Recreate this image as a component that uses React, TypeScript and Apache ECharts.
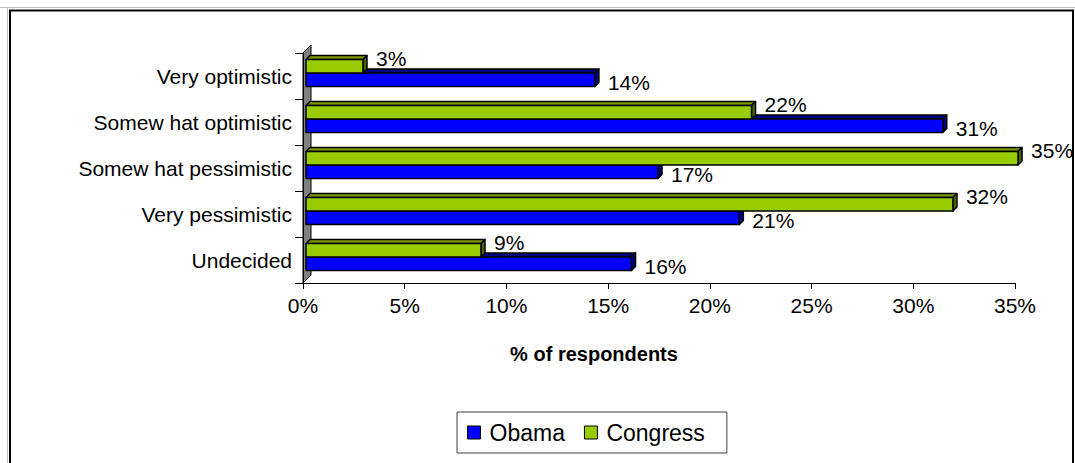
import React, { useEffect, useRef } from "react";
import * as echarts from "echarts";

const categories = [
  "Very optimistic",
  "Somew hat optimistic",
  "Somew hat pessimistic",
  "Very pessimistic",
  "Undecided",
];
const obamaValues = [14.3, 31.4, 17.4, 21.4, 16.1];
const congressValues = [2.9, 22.0, 35.1, 31.9, 8.7];
const seriesNames = ["Obama", "Congress"];
const xTicks = { min: 0, max: 35, interval: 5 };

const FONT = "Liberation Sans, Arial, sans-serif";
const GRID_LEFT = 303;
const GRID_TOP = 53;
const GRID_H = 230;
const DEPTH = 4;

const faceColors: Record<string, { front: string; top: string; side: string }> = {
  Obama: { front: "#0000ff", top: "#000080", side: "#000080" },
  Congress: { front: "#99cc00", top: "#7a9900", side: "#4c6600" },
};

function makeRender(name: string) {
  const isCongress = name === "Congress";
  const c = faceColors[name];
  return (params: any, api: any) => {
    const v = api.value(0);
    const ci = api.value(1);
    const [xv, yc] = api.coord([v, ci]);
    const [x0] = api.coord([0, ci]);
    const band = api.size([0, 1])[1];
    const h = band * 0.293;
    const split = yc - band * 0.065;
    const top = isCongress ? split - h : split;
    const xs = x0 + 3;
    const xe = xv + 1;
    const d = DEPTH;
    const stroke = { stroke: "#000", lineWidth: 1.5, lineJoin: "round" };
    return {
      type: "group",
      children: [
        {
          type: "polygon",
          shape: { points: [[xs, top], [xs + d, top - d], [xe + d, top - d], [xe, top]] },
          style: { fill: c.top, ...stroke },
        },
        {
          type: "polygon",
          shape: { points: [[xe, top], [xe + d, top - d], [xe + d, top + h - d], [xe, top + h]] },
          style: { fill: c.side, ...stroke },
        },
        {
          type: "rect",
          shape: { x: xs, y: top, width: xe - xs, height: h },
          style: { fill: c.front, ...stroke },
        },
        {
          type: "text",
          style: {
            text: Math.round(v) + "%",
            x: xe + d + 9,
            y: isCongress ? yc - 18 : yc + 6,
            verticalAlign: "middle",
            align: "left",
            fill: "#000",
            font: `21px ${FONT}`,
          },
        },
      ],
    };
  };
}

export default function App() {
  const ref = useRef<HTMLDivElement>(null);
  useEffect(() => {
    document.body.style.margin = "0";
    if (!ref.current) return;
    const chart = echarts.init(ref.current, undefined, { renderer: "svg" });
    const wallD = 8;
    const bottom = GRID_TOP + GRID_H;
    chart.setOption({
      animation: false,
      backgroundColor: "#ffffff",
      textStyle: { fontFamily: FONT },
      grid: { left: GRID_LEFT, right: 60, top: GRID_TOP, height: GRID_H, containLabel: false },
      xAxis: {
        type: "value",
        min: xTicks.min,
        max: xTicks.max,
        interval: xTicks.interval,
        axisLine: { show: true, lineStyle: { color: "#000", width: 1 } },
        axisTick: { show: true, length: 6, lineStyle: { color: "#000" } },
        splitLine: { show: false },
        axisLabel: { formatter: "{value}%", fontSize: 21, color: "#000", margin: 12, fontFamily: FONT },
      },
      yAxis: {
        type: "category",
        data: categories,
        inverse: true,
        axisLine: { show: true, lineStyle: { color: "#000", width: 1 } },
        axisTick: { show: true, length: 8, lineStyle: { color: "#000" } },
        axisLabel: { fontSize: 21, color: "#000", margin: 11, fontFamily: FONT },
      },
      legend: {
        data: seriesNames,
        left: 457,
        top: 412,
        orient: "horizontal",
        padding: [9, 22, 9, 10],
        borderColor: "#404040",
        borderWidth: 1,
        itemWidth: 13,
        itemHeight: 13,
        itemGap: 19,
        icon: "rect",
        itemStyle: { borderColor: "#000", borderWidth: 1 },
        textStyle: { fontSize: 23, color: "#000", fontFamily: FONT, padding: [0, 0, 0, 4] },
      },
      graphic: [
        {
          type: "line",
          shape: { x1: 0, y1: 7.5, x2: 1075, y2: 7.5 },
          style: { stroke: "#c0c0c0", lineWidth: 1 },
          z: 0,
        },
        {
          type: "line",
          shape: { x1: 7.5, y1: 7.5, x2: 7.5, y2: 463 },
          style: { stroke: "#c0c0c0", lineWidth: 1 },
          z: 0,
        },
        {
          type: "rect",
          shape: { x: 10, y: 10.5, width: 1063, height: 470 },
          style: { fill: "none", stroke: "#000", lineWidth: 2 },
          z: 0,
        },
        {
          type: "polygon",
          shape: {
            points: [
              [GRID_LEFT, bottom],
              [GRID_LEFT, GRID_TOP],
              [GRID_LEFT + wallD, GRID_TOP - wallD],
              [GRID_LEFT + wallD, bottom - wallD],
            ],
          },
          style: { fill: "#808080", stroke: "#000", lineWidth: 1 },
          z: 0,
        },
        {
          type: "text",
          x: 594,
          y: 354,
          style: {
            text: "% of respondents",
            font: `bold 20px ${FONT}`,
            fill: "#000",
            align: "center",
            verticalAlign: "middle",
          },
          z: 5,
        },
      ],
      series: [
        {
          name: "Obama",
          type: "custom",
          renderItem: makeRender("Obama"),
          itemStyle: { color: faceColors.Obama.front },
          encode: { x: 0, y: 1 },
          data: obamaValues.map((v, i) => [v, i]),
          z: 3,
        },
        {
          name: "Congress",
          type: "custom",
          renderItem: makeRender("Congress"),
          itemStyle: { color: faceColors.Congress.front },
          encode: { x: 0, y: 1 },
          data: congressValues.map((v, i) => [v, i]),
          z: 4,
        },
      ],
    });
    return () => chart.dispose();
  }, []);
  return <div ref={ref} style={{ width: 1075, height: 463 }} />;
}
